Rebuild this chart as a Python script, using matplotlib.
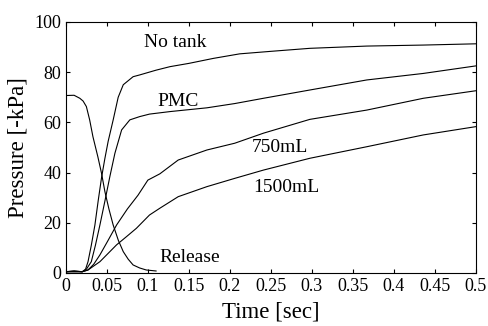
import matplotlib
matplotlib.use('Agg')
import matplotlib.pyplot as plt

plt.rcParams['font.family'] = 'Liberation Serif'

# No tank
t_none = [0, 0.01, 0.02, 0.024, 0.027, 0.031, 0.0354, 0.0395, 0.0435, 0.0475, 0.0516,
          0.0577, 0.0638, 0.070, 0.082, 0.090, 0.11, 0.127, 0.15, 0.18, 0.212, 0.25,
          0.2976, 0.367, 0.436, 0.5]
p_none = [0.5, 0.8, 0.5, 1.5, 4.5, 11, 19.1, 29, 38, 45.5, 52.5, 61, 70, 75, 78.2,
          78.9, 80.8, 82.2, 83.5, 85.5, 87.3, 88.3, 89.5, 90.4, 90.8, 91.3]

# PMC
t_pmc = [0, 0.01, 0.02, 0.025, 0.031, 0.036, 0.0415, 0.0475, 0.0537, 0.0598, 0.068,
         0.078, 0.090, 0.102, 0.127, 0.172, 0.206, 0.241, 0.2976, 0.367, 0.436, 0.5]
p_pmc = [0.5, 0.8, 0.5, 1.5, 4.5, 11, 19.1, 28.5, 38.5, 47.7, 57, 61, 62.3, 63.3,
         64.3, 65.8, 67.5, 69.6, 72.9, 76.9, 79.5, 82.5]

# 750mL
t_750 = [0, 0.02, 0.027, 0.034, 0.0415, 0.0515, 0.0618, 0.075, 0.088, 0.100, 0.1146,
         0.137, 0.172, 0.206, 0.241, 0.2976, 0.367, 0.436, 0.5]
p_750 = [0.5, 0.5, 1.2, 3.5, 7.2, 13, 19.1, 25.5, 31, 37, 39.5, 45, 49, 51.7, 55.7,
         61.2, 64.9, 69.6, 72.6]

# 1500mL
t_1500 = [0, 0.02, 0.027, 0.034, 0.0415, 0.0515, 0.0618, 0.074, 0.086, 0.102, 0.1146,
          0.137, 0.172, 0.206, 0.241, 0.2976, 0.367, 0.436, 0.5]
p_1500 = [0.5, 0.5, 1.2, 2.8, 4.5, 7.8, 11.2, 14.5, 17.8, 23.1, 25.8, 30.4, 34.4,
          37.7, 41, 45.7, 50.3, 55, 58.3]

# Release
t_rel = [0, 0.01, 0.017, 0.021, 0.025, 0.029, 0.033, 0.039, 0.0435, 0.0476, 0.0525,
         0.0577, 0.064, 0.070, 0.076, 0.082, 0.090, 0.098, 0.11]
p_rel = [70.7, 70.8, 69.6, 68.5, 66.3, 61, 54.3, 46.3, 39.7, 32.4, 25.5, 19.1, 13,
         8.5, 5.5, 3.2, 2, 1.2, 0.8]

labels = ['No tank', 'PMC', '750mL', '1500mL', 'Release']
label_xy = [(0.133, 92), (0.137, 68.5), (0.261, 49.8), (0.269, 33.9), (0.151, 6)]

xticks = [0, 0.05, 0.1, 0.15, 0.2, 0.25, 0.3, 0.35, 0.4, 0.45, 0.5]
xticklabels = ['0', '0.05', '0.1', '0.15', '0.2', '0.25', '0.3', '0.35', '0.4', '0.45', '0.5']
yticks = [0, 20, 40, 60, 80, 100]

fig = plt.figure(figsize=(4.88, 3.26), dpi=100)
ax = fig.add_axes([0.135, 0.1626, 0.84, 0.77])

for t, p in [(t_none, p_none), (t_pmc, p_pmc), (t_750, p_750), (t_1500, p_1500), (t_rel, p_rel)]:
    ax.plot(t, p, color='k', lw=0.8)

for lab, (x, y) in zip(labels, label_xy):
    ax.text(x, y, lab, fontsize=14, ha='center', va='center')

ax.set_xlim(0, 0.5)
ax.set_ylim(0, 100)
ax.set_xticks(xticks)
ax.set_xticklabels(xticklabels)
ax.set_yticks(yticks)
ax.tick_params(direction='in', top=True, right=True, length=3, labelsize=13)
ax.set_xlabel('Time [sec]', fontsize=16.5, labelpad=5)
ax.set_ylabel('Pressure [-kPa]', fontsize=16.5)

fig.savefig('out.png', dpi=100)
